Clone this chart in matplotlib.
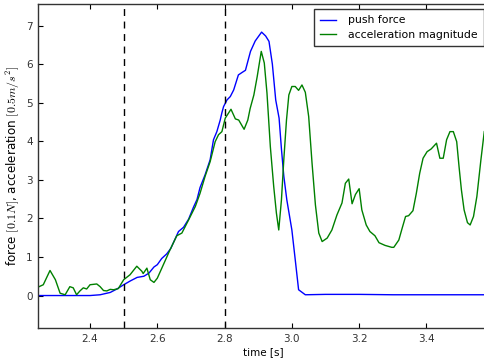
import matplotlib
matplotlib.use("Agg")
import matplotlib.pyplot as plt

plt.rcParams["mathtext.fontset"] = "cm"

# push force
t_force = [2.245, 2.30, 2.35, 2.40, 2.43, 2.46, 2.48, 2.50, 2.52, 2.54, 2.56, 2.575,
           2.59, 2.60, 2.613, 2.628, 2.64, 2.653, 2.663, 2.678, 2.693, 2.708, 2.718,
           2.727, 2.742, 2.757, 2.767, 2.777, 2.787, 2.792, 2.797, 2.807, 2.817, 2.827,
           2.841, 2.853, 2.862, 2.877, 2.891, 2.910, 2.922, 2.932, 2.942, 2.952, 2.962,
           2.969, 2.976, 2.985, 3.000, 3.010, 3.020, 3.04, 3.10, 3.20, 3.30, 3.40,
           3.50, 3.59]
force = [0.0, 0.0, 0.0, 0.0, 0.02, 0.08, 0.17, 0.28, 0.38, 0.47, 0.50, 0.58,
         0.74, 0.80, 0.96, 1.08, 1.22, 1.47, 1.66, 1.77, 1.98, 2.30, 2.49,
         2.80, 3.13, 3.52, 4.04, 4.25, 4.55, 4.74, 4.90, 5.07, 5.16, 5.33,
         5.72, 5.79, 5.84, 6.33, 6.60, 6.83, 6.73, 6.59, 6.00, 5.07, 4.60,
         3.80, 3.10, 2.48, 1.70, 0.93, 0.15, 0.02, 0.03, 0.03, 0.02, 0.02,
         0.02, 0.02]

# acceleration magnitude
t_acc = [2.246, 2.261, 2.281, 2.297, 2.311, 2.326, 2.34, 2.35, 2.36, 2.37, 2.38, 2.39,
         2.40, 2.42, 2.43, 2.44, 2.45, 2.46, 2.47, 2.484, 2.50, 2.519, 2.539, 2.554,
         2.558, 2.569, 2.579, 2.59, 2.60, 2.618, 2.638, 2.658, 2.673, 2.693, 2.713,
         2.727, 2.742, 2.757, 2.772, 2.782, 2.792, 2.802, 2.819, 2.832, 2.842, 2.858,
         2.869, 2.876, 2.887, 2.897, 2.909, 2.918, 2.926, 2.936, 2.946, 2.954, 2.961,
         2.969, 2.976, 2.984, 2.991, 3.000, 3.010, 3.020, 3.030, 3.040, 3.050, 3.060,
         3.070, 3.080, 3.090, 3.105, 3.119, 3.134, 3.149, 3.159, 3.169, 3.179, 3.189,
         3.200, 3.208, 3.221, 3.232, 3.247, 3.259, 3.277, 3.297, 3.303, 3.318, 3.328,
         3.338, 3.347, 3.360, 3.370, 3.380, 3.390, 3.402, 3.414, 3.430, 3.440, 3.450,
         3.460, 3.470, 3.480, 3.490, 3.497, 3.504, 3.512, 3.522, 3.530, 3.540, 3.550,
         3.562, 3.572]
acc = [0.22, 0.28, 0.65, 0.41, 0.06, 0.02, 0.23, 0.20, 0.02, 0.12, 0.20, 0.17,
       0.28, 0.30, 0.23, 0.13, 0.12, 0.16, 0.15, 0.18, 0.41, 0.54, 0.76, 0.63,
       0.57, 0.71, 0.41, 0.34, 0.45, 0.80, 1.19, 1.55, 1.62, 1.96, 2.31,
       2.65, 3.09, 3.47, 3.99, 4.17, 4.25, 4.60, 4.83, 4.58, 4.55, 4.31,
       4.55, 4.85, 5.20, 5.68, 6.33, 6.03, 5.25, 3.86, 2.83, 2.14, 1.70,
       2.48, 3.52, 4.55, 5.20, 5.42, 5.42, 5.32, 5.46, 5.27, 4.64, 3.43,
       2.35, 1.62, 1.40, 1.49, 1.70, 2.09, 2.40, 2.91, 3.02, 2.38, 2.62,
       2.77, 2.22, 1.83, 1.66, 1.55, 1.37, 1.30, 1.25, 1.25, 1.44, 1.75,
       2.05, 2.07, 2.20, 2.65, 3.17, 3.56, 3.73, 3.80, 3.95, 3.56, 3.56,
       4.04, 4.25, 4.25, 3.99, 3.34, 2.74, 2.22, 1.89, 1.83, 2.05, 2.57,
       3.52, 4.25]

markers_t = [2.5, 2.8]

fig = plt.figure(figsize=(4.84, 3.6), dpi=100)
# right spine sits just outside the picture, as in the reference crop
ax = fig.add_axes([0.079, 0.088, 0.932, 0.901])

ax.plot(t_force, force, color=(0, 0, 1), lw=1, label="push force")
ax.plot(t_acc, acc, color=(0, 0.5, 0), lw=1, label="acceleration magnitude")
for t in markers_t:
    ax.axvline(t, color="k", lw=1, linestyle=(0, (5, 4)))

ax.set_xlim(2.246, 3.587)
ax.set_ylim(-0.85, 7.56)
ax.set_xticks([2.4, 2.6, 2.8, 3.0, 3.2, 3.4])
ax.set_yticks(range(0, 8))
ax.tick_params(direction="in", top=True, right=True, length=3.5, labelsize=7.5,
               labelcolor="#333333", pad=4)
for s in ax.spines.values():
    s.set_linewidth(1)
    s.set_color("#333333")

ax.set_xlabel("time [s]", fontsize=7.5, labelpad=2)
ax.set_ylabel(r"force $[0.1N]$, acceleration $[0.5m/s^2]$", fontsize=8.6, labelpad=3)

leg = ax.legend(loc="upper right", fontsize=7.8, fancybox=False, framealpha=1,
                edgecolor="#333333", borderaxespad=0.5, handlelength=1.5,
                handletextpad=1.1, borderpad=0.55, labelspacing=0.4)
leg.get_frame().set_linewidth(1)

fig.savefig("out.png", dpi=100)
